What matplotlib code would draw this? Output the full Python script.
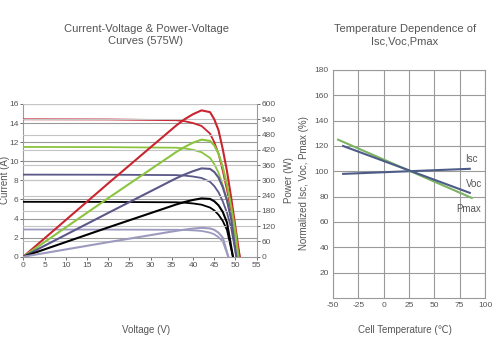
import matplotlib
matplotlib.use("Agg")
import matplotlib.pyplot as plt

plt.rcParams["font.family"] = ["Liberation Sans", "DejaVu Sans"]
plt.rcParams["axes.unicode_minus"] = False

TXT = "#555555"
GRID_A = "#9a9a9a"
GRID_B = "#c4c4c4"

# ── I-V / P-V curves, one list per irradiance level ──
v_red = [0, 20, 36, 38, 40, 42, 44, 45, 46, 47, 48, 49, 50, 51]
i_red = [14.4, 14.38, 14.3, 14.2, 14.0, 13.7, 12.9, 12.0, 10.8, 9.0, 7.0, 4.7, 2.3, 0]
p_red = [0, 288, 515, 540, 560, 575, 568, 540, 497, 423, 336, 230, 115, 0]

v_grn = [0, 20, 36, 38, 40, 42, 44, 45, 46, 47, 48, 49, 50, 50.7]
i_grn = [11.5, 11.48, 11.42, 11.35, 11.2, 10.95, 10.35, 9.7, 8.8, 7.5, 5.9, 4.0, 1.9, 0]
p_grn = [0, 230, 411, 431, 448, 460, 455, 437, 405, 353, 283, 196, 95, 0]

v_pur = [0, 20, 36, 38, 40, 42, 44, 45, 46, 47, 48, 49, 50.2]
i_pur = [8.6, 8.59, 8.55, 8.5, 8.4, 8.25, 7.85, 7.4, 6.75, 5.8, 4.6, 3.0, 0]
p_pur = [0, 172, 308, 323, 336, 347, 345, 333, 311, 273, 221, 147, 0]

v_blk = [0, 20, 36, 38, 40, 42, 44, 45, 46, 47, 48, 49.4]
i_blk = [5.75, 5.74, 5.7, 5.66, 5.58, 5.45, 5.15, 4.85, 4.4, 3.75, 2.8, 0]
p_blk = [0, 115, 205, 215, 223, 229, 227, 218, 202, 176, 134, 0]

v_lav = [0, 20, 36, 38, 40, 42, 44, 45, 46, 47, 48.3]
i_lav = [2.85, 2.84, 2.82, 2.8, 2.76, 2.7, 2.52, 2.35, 2.05, 1.6, 0]
p_lav = [0, 57, 101.5, 106.4, 110.4, 113.4, 110.9, 105.8, 94.3, 75.2, 0]

curves = [
    (v_red, i_red, p_red, "#c9252f"),
    (v_grn, i_grn, p_grn, "#8cc43f"),
    (v_pur, i_pur, p_pur, "#5b5889"),
    (v_blk, i_blk, p_blk, "#000000"),
    (v_lav, i_lav, p_lav, "#9d9abf"),
]

# ── temperature dependence ──
t_isc = [-40, 85]
n_isc = [98, 102]
t_voc = [-40, 85]
n_voc = [120, 83]
t_pmax = [-45, 87]
n_pmax = [125, 79]

fig = plt.figure(figsize=(5.02, 3.47), dpi=100)
fig.patch.set_facecolor("white")

# ── left: I-V and P-V ──
ax1 = fig.add_axes([23.3 / 502, 1 - 256.7 / 347, 233.4 / 502, 152.7 / 347])
ax2 = ax1.twinx()
ax1.set_xlim(0, 55)
ax1.set_ylim(0, 16)
ax2.set_ylim(0, 600)
ax1.set_xticks(range(0, 56, 5))
ax1.set_yticks(range(0, 17, 2))
ax2.set_yticks(range(0, 601, 60))

for y in range(60, 601, 60):
    ax2.axhline(y, color=GRID_B, lw=0.8, zorder=0)
for y in range(2, 17, 2):
    ax1.axhline(y, color=GRID_A, lw=0.8, zorder=0)

for v, i, p, c in curves:
    ax1.plot(v, i, color=c, lw=1.3, solid_joinstyle="round", zorder=3)
    ax2.plot(v, p, color=c, lw=1.5, solid_joinstyle="round", zorder=3)

for ax in (ax1, ax2):
    ax.tick_params(labelsize=6, colors=TXT, length=2, width=0.6, pad=1.5)
    ax.spines["top"].set_visible(False)
    for sp in ax.spines.values():
        sp.set_color(GRID_A)
        sp.set_linewidth(0.8)
ax1.spines["right"].set_visible(False)
ax2.spines["left"].set_visible(False)
ax2.spines["bottom"].set_visible(False)

fig.text(5 / 502, 1 - 180 / 347, "Current (A)", rotation=90,
         ha="center", va="center", fontsize=7, color=TXT)

# ── right: temperature dependence ──
ax3 = fig.add_axes([333 / 502, 1 - 298 / 347, 152 / 502, 228 / 347])
ax3.set_xlim(-50, 100)
ax3.set_ylim(0, 180)
ax3.set_xticks([-50, -25, 0, 25, 50, 75, 100])
ax3.set_yticks(range(20, 181, 20))
ax3.grid(True, color=GRID_A, lw=0.8)
ax3.set_axisbelow(True)
ax3.tick_params(labelsize=6, colors=TXT, length=0, pad=3)
for sp in ax3.spines.values():
    sp.set_color(GRID_A)
    sp.set_linewidth(0.8)

ax3.plot(t_isc, n_isc, color="#4d5b87", lw=1.5)
ax3.plot(t_pmax, n_pmax, color="#7bb363", lw=1.5)
ax3.plot(t_voc, n_voc, color="#4d5b87", lw=1.5)
ax3.text(87, 110, "Isc", fontsize=7, color=TXT, ha="center", va="center")
ax3.text(89, 90, "Voc", fontsize=7, color=TXT, ha="center", va="center")
ax3.text(84, 70, "Pmax", fontsize=7, color=TXT, ha="center", va="center")

# ── titles and labels in figure pixels ──
H = 347
def ftext(x, y, s, **kw):
    fig.text(x / 502, 1 - y / H, s, ha="center", va="center", color=TXT, **kw)

ftext(146, 35, "Current-Voltage & Power-Voltage\nCurves (575W)", fontsize=8, linespacing=1.35)
ftext(405, 35, "Temperature Dependence of\nIsc,Voc,Pmax", fontsize=8, linespacing=1.35)
ftext(146, 330, "Voltage (V)", fontsize=7)
ftext(405, 330, "Cell Temperature (\u2103)", fontsize=7)
ftext(289, 180, "Power (W)", fontsize=7, rotation=90)
ftext(304, 183, "Normalized Isc, Voc, Pmax (%)", fontsize=7, rotation=90)

fig.savefig("out.png", dpi=100)
